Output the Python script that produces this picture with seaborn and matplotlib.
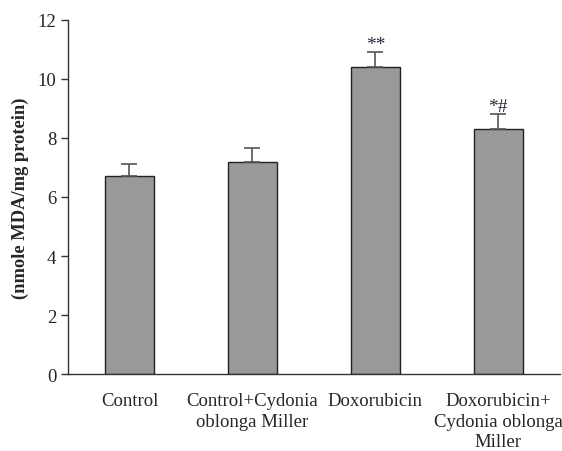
import matplotlib
matplotlib.use("Agg")
import matplotlib.pyplot as plt
import seaborn as sns
import pandas as pd

categories = ["Control", "Control+Cydonia\noblonga Miller", "Doxorubicin",
              "Doxorubicin+\nCydonia oblonga\nMiller"]
values = [6.7, 7.2, 10.4, 8.3]
errors = [0.4, 0.45, 0.5, 0.5]
marks = ["", "", "**", "*#"]

sns.set_theme(style="ticks")
plt.rcParams['font.family'] = ['Liberation Serif', 'DejaVu Serif']

df = pd.DataFrame({"group": categories, "value": values})

fig = plt.figure(figsize=(5.62, 4.52), dpi=100)
ax = fig.add_axes([0.121, 0.170, 0.875, 0.784])
sns.barplot(data=df, x="group", y="value", color="#999999", saturation=1,
            width=0.4, edgecolor="#222222", linewidth=1, errorbar=None, ax=ax)
ax.errorbar(range(len(values)), values, yerr=[[0]*len(values), errors],
            fmt="none", ecolor="#555555", elinewidth=1.2, capsize=6, capthick=1.2)
for i, (v, e, m) in enumerate(zip(values, errors, marks)):
    if m:
        ax.text(i, v + e - 0.02, m, ha="center", va="bottom", fontsize=14, color="#2a2a3a")

ax.set_ylim(0, 12)
ax.set_yticks(range(0, 13, 2))
ax.set_xlim(-0.5, 3.5)
ax.set_xlabel("")
ax.set_ylabel("(nmole MDA/mg protein)", fontsize=13.3, fontweight="bold", labelpad=6)
ax.tick_params(axis="x", length=0, pad=13, labelsize=13.5)
for lbl in ax.get_xticklabels():
    lbl.set_linespacing(1.27)
ax.tick_params(axis="y", length=5, width=1, labelsize=13.5, direction="out", color="#333333")
for s in ["top", "right"]:
    ax.spines[s].set_visible(False)
for s in ["left", "bottom"]:
    ax.spines[s].set_color("#333333")
    ax.spines[s].set_linewidth(1)
fig.savefig("out.png", dpi=100)
